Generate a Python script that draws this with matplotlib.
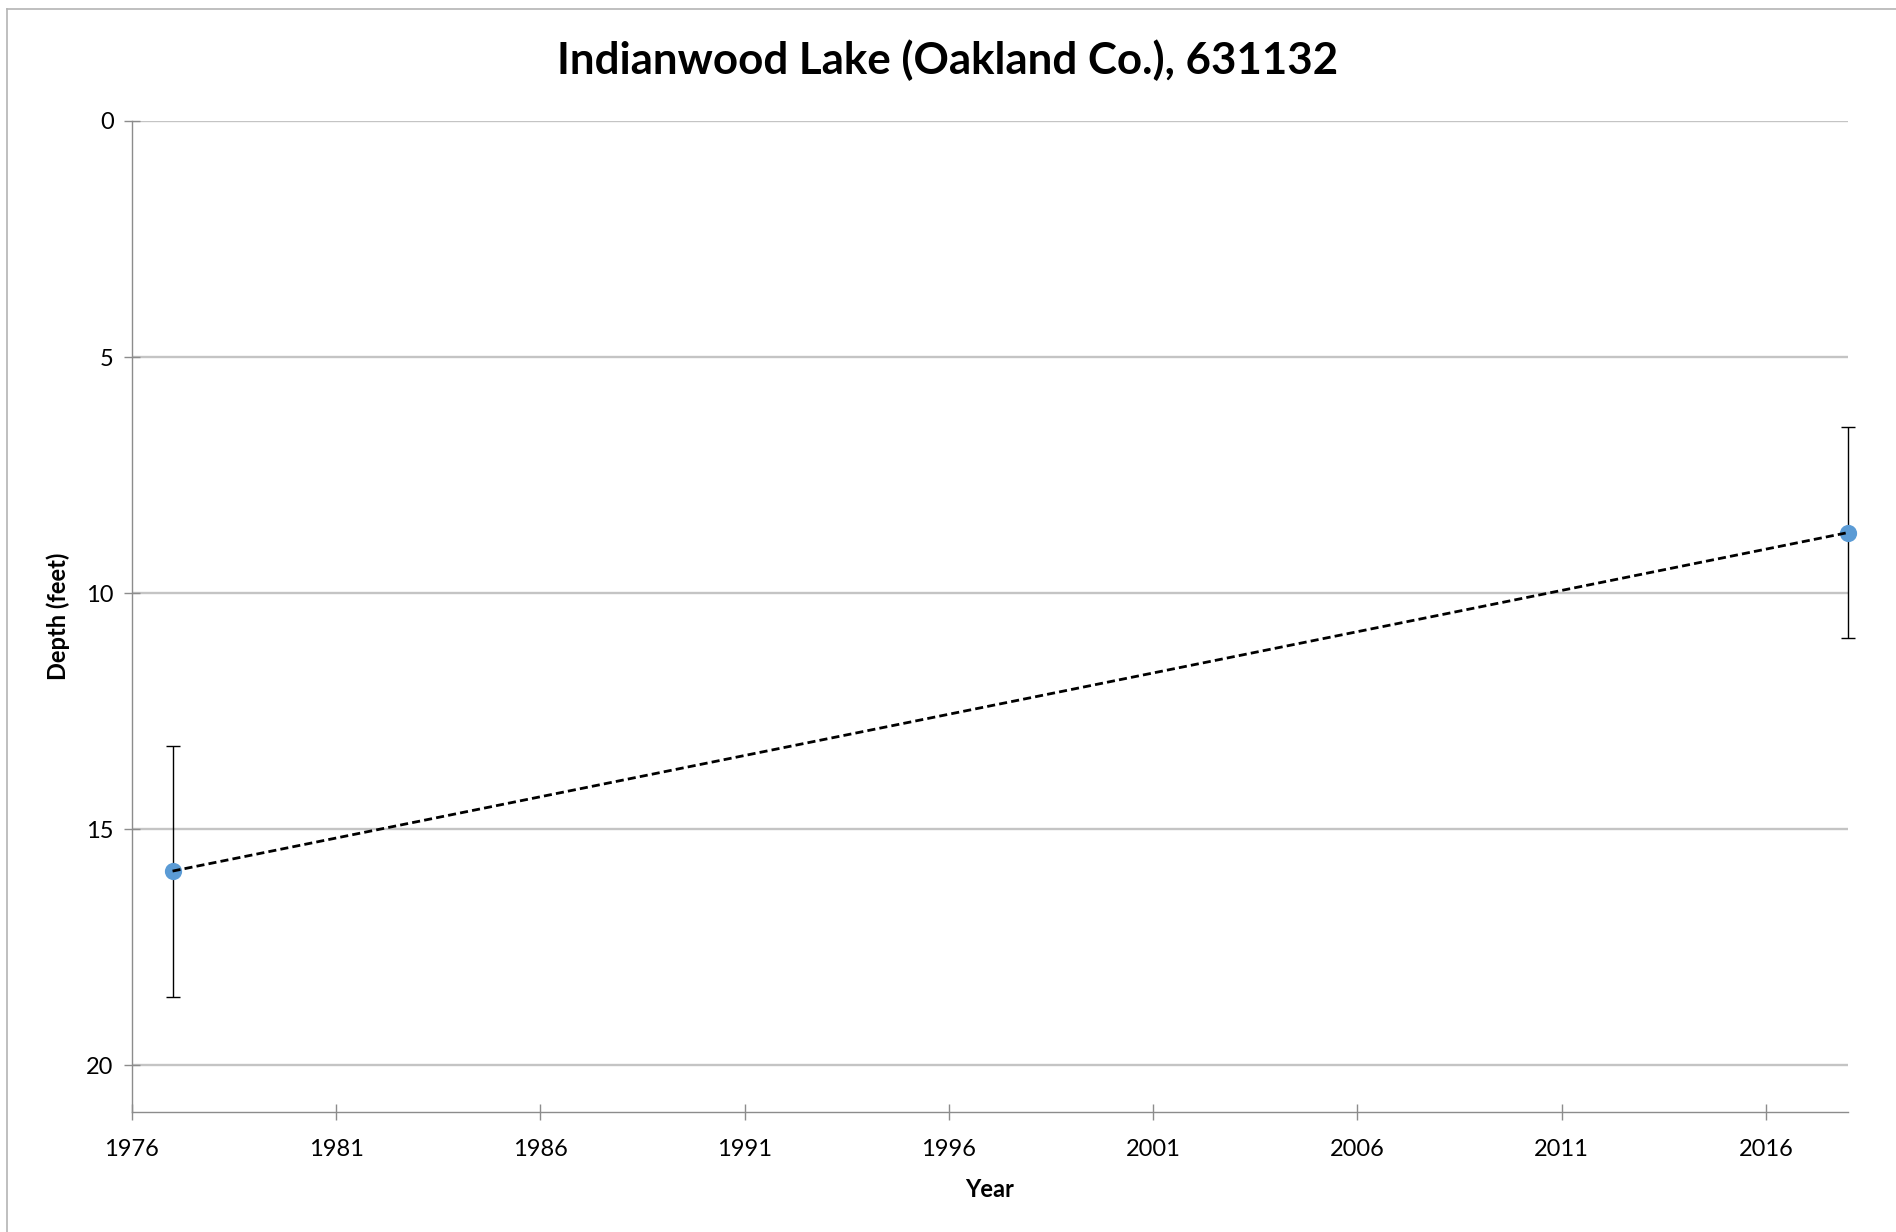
import matplotlib.pyplot as plt
from matplotlib.lines import Line2D

plt.rcParams["font.family"] = ["Lato", "DejaVu Sans"]

# secchi depth readings (feet)
years = [1977, 2018]
depth = [15.89, 8.72]
depth_err = [2.66, 2.24]

x_ticks = list(range(1976, 2017, 5))
y_ticks = [0, 5, 10, 15, 20]
title = "Indianwood Lake (Oakland Co.), 631132"

fig = plt.figure(figsize=(9.48, 6.16), dpi=200)
ax = fig.add_axes([0.06946, 0.09716, 0.97453 - 0.06946, 0.90179 - 0.09716])

# light outer frame of the chart area (only top and left edges show)
frame_x = 6.7 / 1896
frame_y = 1 - 9 / 1232
fig.add_artist(Line2D([frame_x, 1.0], [frame_y, frame_y], transform=fig.transFigure,
                      color="#b4b4b4", linewidth=0.6))
fig.add_artist(Line2D([frame_x, frame_x], [0.0, frame_y], transform=fig.transFigure,
                      color="#b4b4b4", linewidth=0.6))

ax.errorbar(years, depth, yerr=depth_err, fmt="none", ecolor="black",
            elinewidth=0.5, capsize=2.6, capthick=0.5, zorder=3, clip_on=False)
ax.plot(years, depth, linestyle="none", marker="o", markersize=5.2,
        color="#5b9bd5", zorder=4, clip_on=False)
ax.plot(years, depth, linestyle=(0, (2.9, 1.5)), color="black",
        linewidth=1.0, zorder=5, clip_on=False)

ax.set_xlim(1976, 2018)
ax.set_ylim(21, 0)
ax.set_xticks(x_ticks)
ax.set_yticks(y_ticks)
ax.yaxis.grid(True, color="#c4c4c4", linewidth=0.85)
ax.set_axisbelow(True)

for side in ("top", "right"):
    ax.spines[side].set_visible(False)
for side in ("left", "bottom"):
    ax.spines[side].set_color("#8c8c8c")
    ax.spines[side].set_linewidth(0.5)
ax.tick_params(axis="both", direction="inout", length=6.1, width=0.5,
               color="#8c8c8c", labelsize=8.5, labelcolor="black")
ax.tick_params(axis="y", pad=3.5)
ax.tick_params(axis="x", pad=6.5)

ax.set_xlabel("Year", fontsize=8.5, fontweight="bold")
ax.set_ylabel("Depth (feet)", fontsize=8.5, fontweight="bold")
ax.xaxis.set_label_coords(0.5, -0.066)
ax.yaxis.set_label_coords(-0.036, 0.5)

fig.text(0.5, 1 - 74 / 1232, title, ha="center", va="baseline",
         fontsize=15.8, fontweight="bold")

fig.savefig("out.png", dpi=200)
plt.close(fig)
